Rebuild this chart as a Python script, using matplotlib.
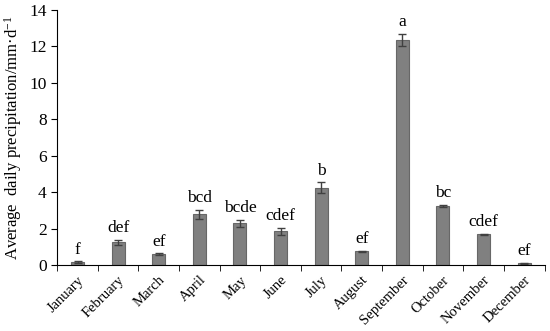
import matplotlib
matplotlib.use("Agg")
import matplotlib.pyplot as plt
import numpy as np

months = ["January", "February", "March", "April", "May", "June", "July",
          "August", "September", "October", "November", "December"]
values = [0.15, 1.25, 0.6, 2.8, 2.3, 1.85, 4.25, 0.75, 12.35, 3.25, 1.7, 0.1]
errors = [0.05, 0.15, 0.05, 0.25, 0.2, 0.2, 0.3, 0.03, 0.35, 0.05, 0.03, 0.03]
letters = ["f", "def", "ef", "bcd", "bcde", "cdef", "b", "ef", "a", "bc", "cdef", "ef"]
yticks = [0, 2, 4, 6, 8, 10, 12, 14]

plt.rcParams['font.family'] = ['Liberation Serif', 'DejaVu Serif']
plt.rcParams['mathtext.fontset'] = 'custom'
plt.rcParams['mathtext.rm'] = 'Liberation Serif'
plt.rcParams['mathtext.it'] = 'Liberation Serif:italic'
plt.rcParams['mathtext.default'] = 'rm'
fig = plt.figure(figsize=(5.5, 3.31), dpi=100)
ax = fig.add_axes([0.104, 0.199, 0.886, 0.771])
x = np.arange(len(months))
ax.bar(x, values, width=0.32, color="#808080", edgecolor="#676767", linewidth=0.8,
       yerr=errors, error_kw=dict(ecolor="#404040", elinewidth=1, capsize=3, capthick=1))
for xi, v, e, t in zip(x, values, errors, letters):
    ax.text(xi, v + e + 0.2, t, ha="center", va="bottom", fontsize=12.5)
ax.set_xlim(-0.5, len(months) - 0.5)
ax.set_ylim(0, 14)
ax.set_yticks(yticks)
ax.set_yticklabels([str(t) for t in yticks], fontsize=12.5)
ax.set_xticks(x)
ax.set_xticklabels(months, rotation=45, ha="right", rotation_mode="anchor", fontsize=10.5)
ax.tick_params(axis="x", length=0, pad=6)
ax.set_xticks(np.arange(-0.5, len(months) + 0.5, 1), minor=True)
ax.tick_params(axis="x", which="minor", length=4, direction="out")
ax.tick_params(axis="y", length=4, direction="out")
for s in ["top", "right"]:
    ax.spines[s].set_visible(False)
ax.set_ylabel("Average  daily precipitation/mm·d$^{-1}$", fontsize=12)
fig.savefig("out.png", dpi=100)
